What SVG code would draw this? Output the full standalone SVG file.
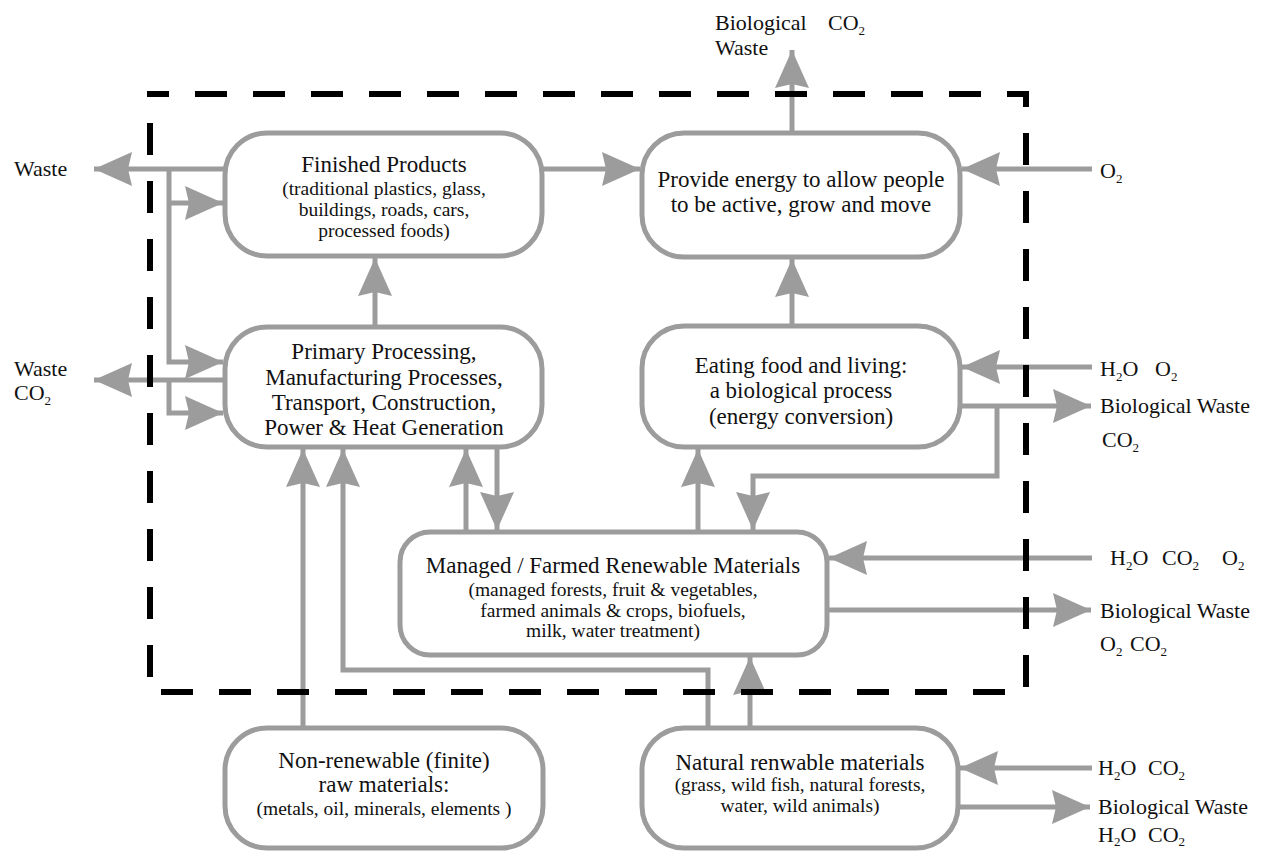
<svg xmlns="http://www.w3.org/2000/svg" width="1275" height="852" viewBox="0 0 1275 852">
<style>
  .box{fill:#fff;stroke:#9c9c9c;stroke-width:5}
  .conn{fill:none;stroke:#9c9c9c;stroke-width:5}
  .arr{marker-end:url(#ah)}
  .t{font-family:"Liberation Serif","Times New Roman",serif;fill:#111;text-anchor:middle}
  .big{font-size:23px}
  .small{font-size:19.5px}
  .lbl{font-family:"Liberation Serif","Times New Roman",serif;fill:#111;font-size:22px}
  .sub{font-size:13px}
  .bound{fill:none;stroke:#000;stroke-width:6;stroke-dasharray:32 26;stroke-dashoffset:13}
</style>
<defs>
  <marker id="ah" markerUnits="userSpaceOnUse" markerWidth="40" markerHeight="36" refX="38" refY="17" orient="auto">
    <path d="M0,0 L38,17 L0,34 L4,17 z" fill="#9c9c9c"/>
  </marker>
</defs>
<rect width="1275" height="852" fill="#fff"/>

<g id="connectors">
  <path class="conn arr" d="M225,169 H94"/>
  <path class="conn arr" d="M169,169 V362 H223"/>
  <path class="conn arr" d="M169,203 H223"/>
  <path class="conn arr" d="M225,380 H94"/>
  <path class="conn arr" d="M169,380 V413 H223"/>
  <path class="conn arr" d="M542,169 H640"/>
  <path class="conn arr" d="M375,327 V258"/>
  <path class="conn arr" d="M792,133 V50"/>
  <path class="conn arr" d="M1092,169 H962"/>
  <path class="conn arr" d="M792,326 V259"/>
  <path class="conn arr" d="M1092,367 H962"/>
  <path class="conn arr" d="M960,406 H1091"/>
  <path class="conn arr" d="M997,406 V476 H753 V530"/>
  <path class="conn arr" d="M698,532 V449"/>
  <path class="conn arr" d="M466,532 V449"/>
  <path class="conn arr" d="M497,447 V530"/>
  <path class="conn arr" d="M1092,558 H829"/>
  <path class="conn arr" d="M827,610 H1091"/>
  <path class="conn arr" d="M303,728 V449"/>
  <path class="conn arr" d="M708,728 V670 H343 V449"/>
  <path class="conn arr" d="M750,728 V657"/>
  <path class="conn arr" d="M1092,768 H960"/>
  <path class="conn arr" d="M958,807 H1090"/>
</g>

<g id="finished">
  <rect class="box" x="225" y="133" width="317" height="123" rx="42"/>
  <text class="t big" x="384" y="172">Finished Products</text>
  <text class="t small" x="384" y="195">(traditional plastics, glass,</text>
  <text class="t small" x="384" y="216">buildings, roads, cars,</text>
  <text class="t small" x="384" y="237">processed foods)</text>
</g>

<g id="provide">
  <rect class="box" x="642" y="133" width="318" height="124" rx="42"/>
  <text class="t big" x="801" y="187">Provide energy to allow people</text>
  <text class="t big" x="801" y="212">to be active, grow and move</text>
</g>

<g id="primary">
  <rect class="box" x="225" y="327" width="317" height="120" rx="42"/>
  <text class="t big" x="384" y="359">Primary Processing,</text>
  <text class="t big" x="384" y="385">Manufacturing Processes,</text>
  <text class="t big" x="384" y="410">Transport, Construction,</text>
  <text class="t big" x="384" y="435">Power &amp; Heat Generation</text>
</g>

<g id="eating">
  <rect class="box" x="642" y="326" width="318" height="121" rx="42"/>
  <text class="t big" x="801" y="373">Eating food and living:</text>
  <text class="t big" x="801" y="398">a biological process</text>
  <text class="t big" x="801" y="424">(energy conversion)</text>
</g>

<g id="managed">
  <rect class="box" x="400" y="532" width="427" height="123" rx="30"/>
  <text class="t big" x="613" y="573">Managed / Farmed Renewable Materials</text>
  <text class="t small" x="613" y="596">(managed forests, fruit &amp; vegetables,</text>
  <text class="t small" x="613" y="617">farmed animals &amp; crops, biofuels,</text>
  <text class="t small" x="613" y="637">milk, water treatment)</text>
</g>

<g id="nonrenewable">
  <rect class="box" x="225" y="728" width="318" height="120" rx="42"/>
  <text class="t big" x="384" y="768">Non-renewable (finite)</text>
  <text class="t big" x="384" y="792">raw materials:</text>
  <text class="t small" x="384" y="815">(metals, oil, minerals, elements )</text>
</g>

<g id="natural">
  <rect class="box" x="642" y="728" width="316" height="120" rx="42"/>
  <text class="t big" x="800" y="770">Natural renwable materials</text>
  <text class="t small" x="800" y="791">(grass, wild fish, natural forests,</text>
  <text class="t small" x="800" y="812">water, wild animals)</text>
</g>

<g id="labels">
  <text class="lbl" x="14" y="176">Waste</text>
  <text class="lbl" x="14" y="376">Waste</text>
  <text class="lbl" x="14" y="400">CO<tspan class="sub" dy="5">2</tspan></text>
  <text class="lbl" x="715" y="30">Biological</text>
  <text class="lbl" x="828" y="30">CO<tspan class="sub" dy="5">2</tspan></text>
  <text class="lbl" x="715" y="55">Waste</text>
  <text class="lbl" x="1100" y="178">O<tspan class="sub" dy="5">2</tspan></text>
  <text class="lbl" x="1100" y="376">H<tspan class="sub" dy="5">2</tspan><tspan dy="-5">O</tspan></text>
  <text class="lbl" x="1155" y="376">O<tspan class="sub" dy="5">2</tspan></text>
  <text class="lbl" x="1100" y="413">Biological  Waste</text>
  <text class="lbl" x="1102" y="447">CO<tspan class="sub" dy="5">2</tspan></text>
  <text class="lbl" x="1110" y="565">H<tspan class="sub" dy="5">2</tspan><tspan dy="-5">O</tspan></text>
  <text class="lbl" x="1162" y="565">CO<tspan class="sub" dy="5">2</tspan></text>
  <text class="lbl" x="1222" y="565">O<tspan class="sub" dy="5">2</tspan></text>
  <text class="lbl" x="1100" y="618">Biological  Waste</text>
  <text class="lbl" x="1100" y="651">O<tspan class="sub" dy="5">2</tspan></text>
  <text class="lbl" x="1130" y="651">CO<tspan class="sub" dy="5">2</tspan></text>
  <text class="lbl" x="1098" y="775">H<tspan class="sub" dy="5">2</tspan><tspan dy="-5">O</tspan></text>
  <text class="lbl" x="1148" y="775">CO<tspan class="sub" dy="5">2</tspan></text>
  <text class="lbl" x="1098" y="814">Biological  Waste</text>
  <text class="lbl" x="1098" y="842">H<tspan class="sub" dy="4">2</tspan><tspan dy="-4">O</tspan></text>
  <text class="lbl" x="1148" y="842">CO<tspan class="sub" dy="4">2</tspan></text>
</g>

<path id="boundary" class="bound" d="M150,94 H1026 V692 H150 Z"/>
</svg>
